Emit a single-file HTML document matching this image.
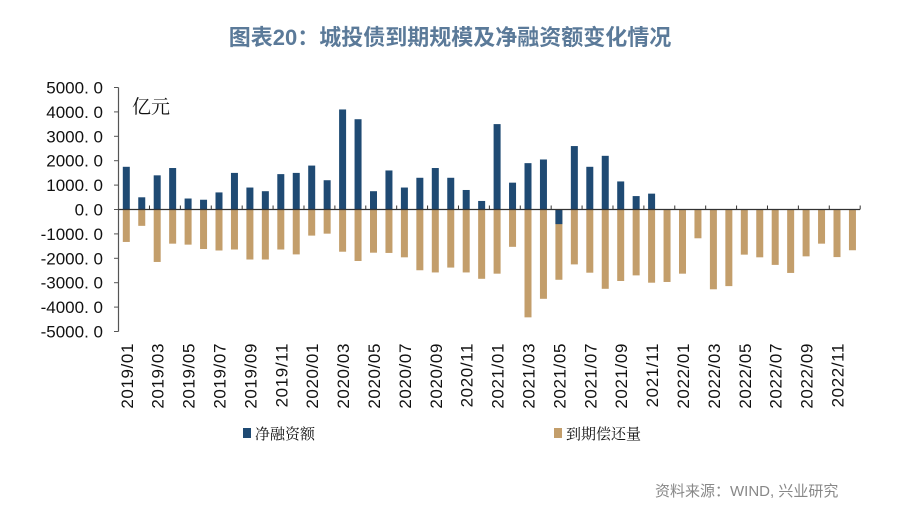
<!DOCTYPE html>
<html><head><meta charset="utf-8">
<style>
body{margin:0;background:#fff;width:900px;height:516px;overflow:hidden;font-family:"Liberation Sans","Noto Sans CJK SC",sans-serif;}
</style></head>
<body>
<svg id="chart" width="900" height="516" xmlns="http://www.w3.org/2000/svg">
<text x="450" y="45" text-anchor="middle" font-size="22" font-weight="bold" fill="#5b7a99" font-family="Liberation Sans, Noto Sans CJK SC, sans-serif">图表20：城投债到期规模及净融资额变化情况</text>
<text x="132" y="113" font-size="19" fill="#111" font-family="Noto Serif CJK SC, serif">亿元</text>
<g id="yaxis"></g>
<g id="bars"></g>
<g id="xaxis"></g>
<g>
<rect x="243" y="428" width="8" height="10" fill="#1f4a73"/>
<text x="255" y="439" font-size="15" fill="#111" font-family="Noto Serif CJK SC, serif">净融资额</text>
<rect x="554" y="428" width="8" height="10" fill="#c39e6b"/>
<text x="566" y="439" font-size="15" fill="#111" font-family="Noto Serif CJK SC, serif">到期偿还量</text>
</g>
<text x="655" y="496" font-size="15" fill="#888">资料来源：WIND, 兴业研究</text>
</svg>
<script>
const categories=[];for(let y=2019;y<=2022;y++)for(let m=1;m<=12;m++)categories.push(y+'/'+String(m).padStart(2,'0'));
const netFinancing=[1750,500,1400,1700,450,400,700,1500,900,750,1450,1500,
1800,1200,4100,3700,750,1600,900,1300,1700,1300,800,350,
3500,1100,1900,2050,-600,2600,1750,2200,1150,550,650,null,
null,null,null,null,null,null,null,null,null,null,null,null];
const maturity=[-1330,-670,-2150,-1400,-1440,-1620,-1680,-1640,-2050,-2050,-1640,-1840,
-1070,-990,-1730,-2110,-1770,-1780,-1960,-2490,-2580,-2380,-2580,-2840,
-2630,-1530,-4420,-3660,-2880,-2250,-2590,-3250,-2930,-2700,-3000,-2970,
-2630,-1180,-3270,-3140,-1850,-1960,-2270,-2600,-1920,-1400,-1950,-1670];
const yTicks=[5000,4000,3000,2000,1000,0,-1000,-2000,-3000,-4000,-5000];
const NS='http://www.w3.org/2000/svg';
const y0=209.5,pxPer=24.4/1000,x0=126.3,step=15.45,bw=7;
const Y=v=>y0-v*pxPer, X=i=>x0+i*step;
function mk(tag,at,parent){const e=document.createElementNS(NS,tag);for(const k in at)e.setAttribute(k,at[k]);parent.appendChild(e);return e;}
const ya=document.getElementById('yaxis'),ba=document.getElementById('bars'),xa=document.getElementById('xaxis');
let l=mk('line',{x1:118.5,x2:118.5,y1:Y(5000),y2:Y(-5000),stroke:'#555','stroke-width':1.2},ya);

yTicks.forEach(v=>{
 const t=mk('line',{x1:114,x2:118.5,y1:Y(v),y2:Y(v),stroke:'#555'},ya);
 
 const s=mk('text',{x:103,y:Y(v)+6,'text-anchor':'end','font-size':17,fill:'#111'},ya);
 s.textContent=v.toFixed(1).replace('.','. ');
 
});
maturity.forEach((v,i)=>{if(v==null)return;
 const r=mk('rect',{x:X(i)-bw/2,y:Math.min(Y(v),y0),width:bw,height:Math.abs(Y(v)-y0),fill:'#c39e6b'},ba);
 });
netFinancing.forEach((v,i)=>{if(v==null)return;
 const r=mk('rect',{x:X(i)-bw/2,y:Math.min(Y(v),y0),width:bw,height:Math.abs(Y(v)-y0),fill:'#1f4a73'},ba);
 });
l=mk('line',{x1:118.5,x2:860,y1:y0,y2:y0,stroke:'#333','stroke-width':1.3},xa);

categories.forEach((c,i)=>{
 if(i%2==1){const t=mk('line',{x1:X(i)+step/2,x2:X(i)+step/2,y1:y0,y2:y0-4,stroke:'#333'},xa);
 }
 if(i%2==0){const s=mk('text',{transform:`translate(${X(i)+6.5},343) rotate(-90)`,'text-anchor':'end','font-size':17,'letter-spacing':'0.6',fill:'#111'},xa);
 s.textContent=c;}
});
</script>
</body></html>
